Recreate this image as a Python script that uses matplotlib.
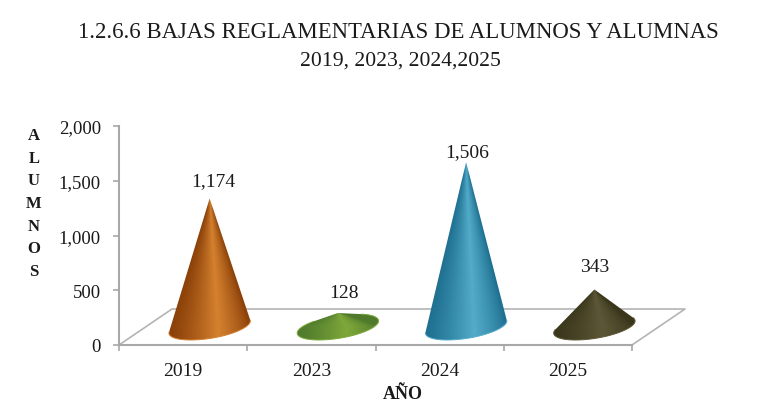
#!/usr/bin/env python3
import numpy as np
import matplotlib
matplotlib.use("Agg")
import matplotlib.pyplot as plt
from matplotlib.colors import to_rgb
from matplotlib.patches import Polygon

years = ["2019", "2023", "2024", "2025"]
values = [1174, 128, 1506, 343]
value_labels = ["1,174", "128", "1,506", "343"]
yticks = [0, 500, 1000, 1500, 2000]
ytick_labels = ["0", "500", "1,000", "1,500", "2,000"]

# dark edge, highlight for each cone
cone_colors = [
    ("#8a4008", "#d5812f"),
    ("#4f7a2c", "#7fa83a"),
    ("#1f7090", "#52abc9"),
    ("#3a361c", "#5c5736"),
]
label_offsets = [(2.5, 13), (4.5, 14.5), (1, 7.5), (0.5, 16.5)]

plt.rcParams["font.family"] = ["Liberation Serif", "DejaVu Serif"]

W, H = 760, 410
fig = plt.figure(figsize=(W / 100, H / 100), dpi=100)
left, right, top, bottom = 119, 632, 127, 346
ax = fig.add_axes([left / W, 1 - bottom / H, (right - left) / W, (bottom - top) / H])
ax.set_xlim(0, 4)
ax.set_ylim(0, 2000)
ax.patch.set_alpha(0)

px_x = 4 / (right - left)
px_y = 2000 / (bottom - top)
depth_x, depth_y = 53 * px_x, 36 * px_y

# floor of the 3d box
grey = "#a8a8a8"
floor_x = [0, depth_x, 4 + depth_x, 4]
floor_y = [0, depth_y, depth_y, 0]
ax.plot(floor_x, floor_y, color="#b4b4b4", lw=1.2, clip_on=False, zorder=1)

for i, (val, cols) in enumerate(zip(values, cone_colors)):
    cx = i + 0.5 + depth_x / 2
    cy = depth_y / 2
    tip_y = val + cy
    t = np.linspace(0, 2 * np.pi, 361)[:-1]
    # base circle lying in the sheared floor plane
    bx = (36 * np.cos(t) + 19 * np.sin(t)) * px_x
    by = 13 * np.sin(t) * px_y

    # outline: tip plus the part of the base facing the viewer
    seen = np.arctan2(bx / px_x, (tip_y - cy - by) / px_y)
    a, b = int(np.argmin(seen)), int(np.argmax(seen))
    idx = np.roll(np.arange(len(t)), -a)
    idx = idx[: (b - a) % len(t) + 1]
    outline = [(cx, tip_y)] + [(cx + bx[k], cy + by[k]) for k in idx]
    shape = Polygon(outline, closed=True, facecolor="none", edgecolor="none", clip_on=False)
    ax.add_patch(shape)

    # shading across the cone: dark edge, highlight right of centre, dark edge
    half = 41 * px_x
    xs = np.linspace(cx - half, cx + half, 200)
    ys = np.linspace(cy - 14 * px_y, tip_y, 300)
    xx, yy = np.meshgrid(xs, ys)
    width = half * np.clip((tip_y - yy) / max(val, 1), 0.08, 1)
    s = np.clip((xx - cx) / width, -1, 1)
    f = np.where(s < 0.2, ((s + 1) / 1.2) ** 1.3, ((1 - s) / 0.8) ** 0.8)
    dark, light = [np.array(to_rgb(c)) for c in cols]
    img = dark + (light - dark) * f[..., None]
    im = ax.imshow(img, origin="lower", extent=(xs[0], xs[-1], ys[0], ys[-1]),
                   aspect="auto", interpolation="bilinear", zorder=3)
    im.set_clip_box(fig.bbox)  # the last cone sticks out past the axes
    im.set_clip_path(shape)

    front = idx[1:-1]
    ax.plot(cx + bx[front], cy + by[front], color=light, lw=0.7, zorder=4, clip_on=False)
    ax.annotate(value_labels[i], xy=(cx, tip_y), xytext=label_offsets[i], textcoords="offset points",
                ha="center", va="center", fontsize=14, color="#1a1a1a",
                annotation_clip=False, zorder=5)

ax.set_xlim(0, 4)
ax.set_ylim(0, 2000)

# axes
for side in ["top", "right"]:
    ax.spines[side].set_visible(False)
for side in ["left", "bottom"]:
    ax.spines[side].set_color(grey)
    ax.spines[side].set_linewidth(1.5)
ax.set_yticks(yticks)
ax.set_yticklabels(ytick_labels, fontsize=13.5, color="#1a1a1a")
ax.set_xticks(range(5))
ax.set_xticklabels([])
ax.set_xticks(np.arange(4) + 0.5, minor=True)
ax.set_xticklabels(years, minor=True, fontsize=14, color="#1a1a1a")
ax.tick_params(axis="x", which="minor", length=0, pad=12)
ax.tick_params(axis="x", which="major", length=4, width=1.2, color=grey)
ax.tick_params(axis="y", length=4, width=1.2, color=grey, pad=9)

fig.text(398 / W, 1 - 33 / H, "1.2.6.6 BAJAS REGLAMENTARIAS DE ALUMNOS Y ALUMNAS",
         ha="center", va="center", fontsize=16.4, color="#1a1a1a")
fig.text(400 / W, 1 - 61 / H, "2019, 2023, 2024,2025",
         ha="center", va="center", fontsize=15.6, color="#1a1a1a")
fig.text(403 / W, 1 - 395 / H, "AÑO", ha="center", va="center",
         fontsize=13, fontweight="bold", color="#1a1a1a")
fig.text(34 / W, 1 - 204 / H, "A\nL\nU\nM\nN\nO\nS", ha="center", va="center",
         fontsize=12, fontweight="bold", color="#1a1a1a", linespacing=1.55)

fig.savefig("out.png", dpi=100)
